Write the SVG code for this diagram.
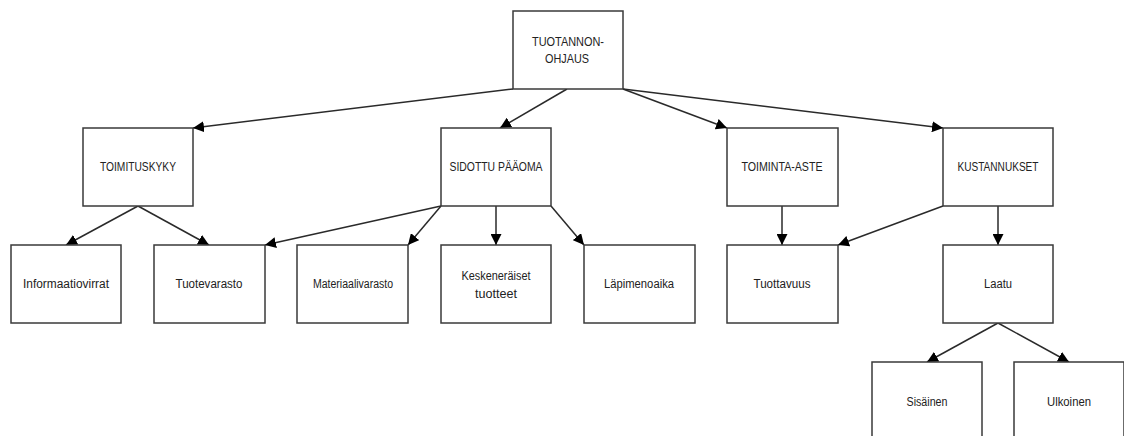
<svg xmlns="http://www.w3.org/2000/svg" width="1124" height="436" viewBox="0 0 1124 436">
  <style>
    .box { fill: #ffffff; stroke: #3a3a3a; stroke-width: 1.5; }
    .lbl { font-family: "Liberation Sans", Arial, sans-serif; font-size: 12px; fill: #222222; text-anchor: middle; }
    .edge { fill: none; stroke: #2a2a2a; stroke-width: 1.5; marker-end: url(#arrow); }
  </style>
  <defs>
    <marker id="arrow" markerUnits="userSpaceOnUse" markerWidth="11" markerHeight="11" viewBox="0 0 10 10" refX="10" refY="5" orient="auto">
      <path d="M0,0 L10,5 L0,10 z" fill="#000000"/>
    </marker>
  </defs>
  <rect width="1124" height="436" fill="#ffffff"/>

  <!-- connectors -->
  <g id="connectors">
    <line class="edge" x1="513" y1="89" x2="193" y2="128"/>
    <line class="edge" x1="567" y1="89" x2="500" y2="128"/>
    <line class="edge" x1="623" y1="89" x2="727" y2="128"/>
    <line class="edge" x1="623" y1="89" x2="943" y2="128"/>

    <line class="edge" x1="138" y1="206" x2="66" y2="245"/>
    <line class="edge" x1="138" y1="206" x2="209" y2="245"/>

    <line class="edge" x1="441" y1="206" x2="265" y2="245"/>
    <line class="edge" x1="441" y1="206" x2="408" y2="245"/>
    <line class="edge" x1="496" y1="206" x2="496" y2="245"/>
    <line class="edge" x1="551" y1="206" x2="584" y2="245"/>

    <line class="edge" x1="782" y1="206" x2="782" y2="245"/>
    <line class="edge" x1="943" y1="206" x2="838" y2="245"/>
    <line class="edge" x1="998" y1="206" x2="998" y2="245"/>

    <line class="edge" x1="998" y1="323" x2="927" y2="362"/>
    <line class="edge" x1="998" y1="323" x2="1069" y2="362"/>
  </g>

  <!-- root -->
  <g id="tuotannonohjaus">
    <rect class="box" x="513" y="11" width="110" height="78"/>
    <text class="lbl" x="568" y="46" textLength="72" lengthAdjust="spacingAndGlyphs">TUOTANNON-</text>
    <text class="lbl" x="567" y="63" textLength="44" lengthAdjust="spacingAndGlyphs">OHJAUS</text>
  </g>

  <!-- second level -->
  <g id="toimituskyky">
    <rect class="box" x="83" y="128" width="110" height="78"/>
    <text class="lbl" x="138" y="171" textLength="76" lengthAdjust="spacingAndGlyphs">TOIMITUSKYKY</text>
  </g>
  <g id="sidottu-paaoma">
    <rect class="box" x="441" y="128" width="110" height="78"/>
    <text class="lbl" x="496" y="171" textLength="93" lengthAdjust="spacingAndGlyphs">SIDOTTU PÄÄOMA</text>
  </g>
  <g id="toiminta-aste">
    <rect class="box" x="727" y="128" width="111" height="78"/>
    <text class="lbl" x="782" y="171" textLength="81" lengthAdjust="spacingAndGlyphs">TOIMINTA-ASTE</text>
  </g>
  <g id="kustannukset">
    <rect class="box" x="943" y="128" width="110" height="78"/>
    <text class="lbl" x="998" y="171" textLength="81" lengthAdjust="spacingAndGlyphs">KUSTANNUKSET</text>
  </g>

  <!-- third level -->
  <g id="informaatiovirrat">
    <rect class="box" x="11" y="245" width="110" height="78"/>
    <text class="lbl" x="66" y="288" textLength="86" lengthAdjust="spacingAndGlyphs">Informaatiovirrat</text>
  </g>
  <g id="tuotevarasto">
    <rect class="box" x="154" y="245" width="111" height="78"/>
    <text class="lbl" x="209" y="288" textLength="67" lengthAdjust="spacingAndGlyphs">Tuotevarasto</text>
  </g>
  <g id="materiaalivarasto">
    <rect class="box" x="297" y="245" width="111" height="78"/>
    <text class="lbl" x="353" y="288" textLength="80" lengthAdjust="spacingAndGlyphs">Materiaalivarasto</text>
  </g>
  <g id="keskeneraiset-tuotteet">
    <rect class="box" x="441" y="245" width="110" height="78"/>
    <text class="lbl" x="496" y="280" textLength="69" lengthAdjust="spacingAndGlyphs">Keskeneräiset</text>
    <text class="lbl" x="496" y="298" textLength="42" lengthAdjust="spacingAndGlyphs">tuotteet</text>
  </g>
  <g id="lapimenoaika">
    <rect class="box" x="584" y="245" width="111" height="78"/>
    <text class="lbl" x="639" y="288" textLength="70" lengthAdjust="spacingAndGlyphs">Läpimenoaika</text>
  </g>
  <g id="tuottavuus">
    <rect class="box" x="727" y="245" width="111" height="78"/>
    <text class="lbl" x="782" y="288" textLength="57" lengthAdjust="spacingAndGlyphs">Tuottavuus</text>
  </g>
  <g id="laatu">
    <rect class="box" x="943" y="245" width="110" height="78"/>
    <text class="lbl" x="998" y="288" textLength="28" lengthAdjust="spacingAndGlyphs">Laatu</text>
  </g>

  <!-- fourth level -->
  <g id="sisainen">
    <rect class="box" x="872" y="362" width="110" height="78"/>
    <text class="lbl" x="927" y="406" textLength="41" lengthAdjust="spacingAndGlyphs">Sisäinen</text>
  </g>
  <g id="ulkoinen">
    <rect class="box" x="1014" y="362" width="110" height="78"/>
    <text class="lbl" x="1069" y="406" textLength="44" lengthAdjust="spacingAndGlyphs">Ulkoinen</text>
  </g>
</svg>
